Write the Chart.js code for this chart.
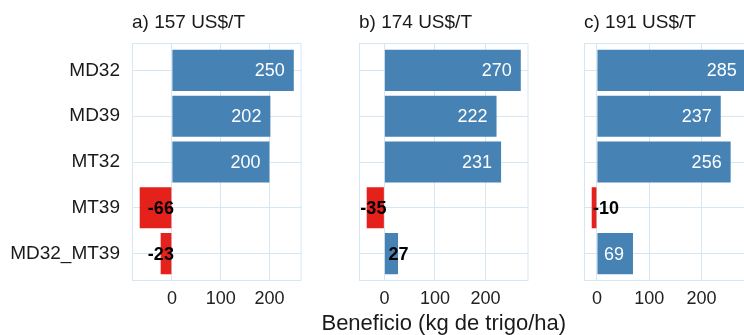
<!DOCTYPE html>
<html>
<head>
<meta charset="utf-8">
<script src="https://cdn.jsdelivr.net/npm/chart.js@4"></script>
<style>
  html, body { margin: 0; padding: 0; background: #ffffff; overflow: hidden; width: 744px; height: 335px; }
  canvas { position: absolute; left: 0; top: 0; }
</style>
</head>
<body>
<canvas id="panelA" width="760" height="335"></canvas>
<canvas id="panelB" width="760" height="335"></canvas>
<canvas id="panelC" width="760" height="335"></canvas>
<script>
// Treatments (rows, top to bottom)
const categories = ['MD32', 'MD39', 'MT32', 'MT39', 'MD32_MT39'];

// Wheat price scenarios (one facet each)
const panelTitles = ['a) 157 US$/T', 'b) 174 US$/T', 'c) 191 US$/T'];

// Profit, kg of wheat per hectare
const beneficioA = [250, 202, 200, -66, -23];
const beneficioB = [270, 222, 231, -35, 27];
const beneficioC = [285, 237, 256, -10, 69];

const xTickValues = [0, 100, 200];
const xAxisTitle = 'Beneficio (kg de trigo/ha)';

// ---- styling / layout ----
const FONT = '"Liberation Sans", Arial, Helvetica, sans-serif';
const BLUE = '#4682B4';
const RED = '#E4211B';
const GRID = '#D6E7F4';
const CANVAS_W = 760;
const PANEL_TOP = 43;
const PANEL_BOTTOM = 281;
const PANEL_W = 169.5;
const panelLefts = [132, 359, 584];

const framePlugin = {
  id: 'frame',
  beforeDatasetsDraw(chart) {
    const { ctx, chartArea: a } = chart;
    ctx.save();
    ctx.strokeStyle = GRID;
    ctx.lineWidth = 1;
    ctx.strokeRect(a.left + 0.5, a.top + 0.5, a.right - a.left - 1, a.bottom - a.top - 1);
    ctx.restore();
  }
};

const stripTitlePlugin = {
  id: 'stripTitle',
  afterDraw(chart, args, opts) {
    const { ctx, chartArea: a } = chart;
    ctx.save();
    ctx.font = '19px ' + FONT;
    ctx.fillStyle = '#1a1a1a';
    ctx.textAlign = 'left';
    ctx.textBaseline = 'alphabetic';
    ctx.fillText(opts.text, a.left, 28);
    if (opts.axisTitle) {
      ctx.font = '22px ' + FONT;
      ctx.textAlign = 'center';
      ctx.fillText(opts.axisTitle, (a.left + a.right) / 2, 330);
    }
    ctx.restore();
  }
};

const valueLabelPlugin = {
  id: 'valueLabels',
  afterDatasetsDraw(chart) {
    const { ctx } = chart;
    const meta = chart.getDatasetMeta(0);
    const values = chart.data.datasets[0].data.map(d => d.x);
    const zero = chart.scales.x.getPixelForValue(0);
    ctx.save();
    ctx.textBaseline = 'middle';
    meta.data.forEach((el, i) => {
      const v = values[i];
      const txt = String(v);
      ctx.font = '18px ' + FONT;
      const w = ctx.measureText(txt).width;
      if (v > 0 && (el.x - zero) > w + 14) {
        ctx.fillStyle = '#ffffff';
        ctx.textAlign = 'right';
        ctx.fillText(txt, el.x - 9, el.y + 1);
      } else {
        ctx.font = 'bold 18px ' + FONT;
        ctx.fillStyle = '#000000';
        if (v < -15) {
          ctx.textAlign = 'right';
          ctx.fillText(txt, zero + 2, el.y + 1);
        } else {
          ctx.textAlign = 'left';
          ctx.fillText(txt, zero + (v < 0 ? -4 : 4), el.y + 1);
        }
      }
    });
    ctx.restore();
  }
};

function makePanel(canvasId, values, idx) {
  const left = panelLefts[idx];
  const right = left + PANEL_W;
  const lo = Math.min(0, ...values);
  const hi = Math.max(0, ...values);
  const pad = 0.05 * (hi - lo);
  const showLabels = idx === 0;

  return new Chart(document.getElementById(canvasId), {
    type: 'bar',
    data: {
      datasets: [{
        data: values.map((v, i) => ({ x: v, y: i })),
        backgroundColor: values.map(v => (v < 0 ? RED : BLUE)),
        borderWidth: 0,
        barPercentage: 0.9,
        categoryPercentage: 1.0
      }]
    },
    options: {
      indexAxis: 'y',
      responsive: false,
      animation: false,
      devicePixelRatio: 1,
      layout: { padding: { left: 0, right: CANVAS_W - right, top: PANEL_TOP, bottom: 0 } },
      plugins: {
        legend: { display: false },
        tooltip: { enabled: false },
        stripTitle: { text: panelTitles[idx], axisTitle: idx === 1 ? xAxisTitle : null }
      },
      scales: {
        x: {
          type: 'linear',
          min: lo - pad,
          max: hi + pad,
          afterBuildTicks: s => { s.ticks = xTickValues.filter(v => v >= s.min && v <= s.max).map(v => ({ value: v })); },
          afterFit: s => { s.height = 335 - PANEL_BOTTOM; },
          grid: { color: GRID, lineWidth: 1, drawTicks: false },
          border: { display: false },
          ticks: {
            color: '#222222',
            font: { family: FONT, size: 18 },
            padding: 7,
            maxRotation: 0
          }
        },
        y: {
          type: 'linear',
          min: -0.6,
          max: 4.6,
          reverse: true,
          offset: false,
          afterBuildTicks: s => { s.ticks = categories.map((c, i) => ({ value: i })); },
          afterFit: s => { s.width = left; },
          grid: { color: GRID, lineWidth: 1, drawTicks: false, offset: false },
          border: { display: false },
          ticks: {
            display: showLabels,
            color: '#1a1a1a',
            font: { family: FONT, size: 19 },
            padding: 12,
            callback: v => categories[v]
          }
        }
      }
    },
    plugins: [framePlugin, stripTitlePlugin, valueLabelPlugin]
  });
}

makePanel('panelA', beneficioA, 0);
makePanel('panelB', beneficioB, 1);
makePanel('panelC', beneficioC, 2);
</script>
</body>
</html>
